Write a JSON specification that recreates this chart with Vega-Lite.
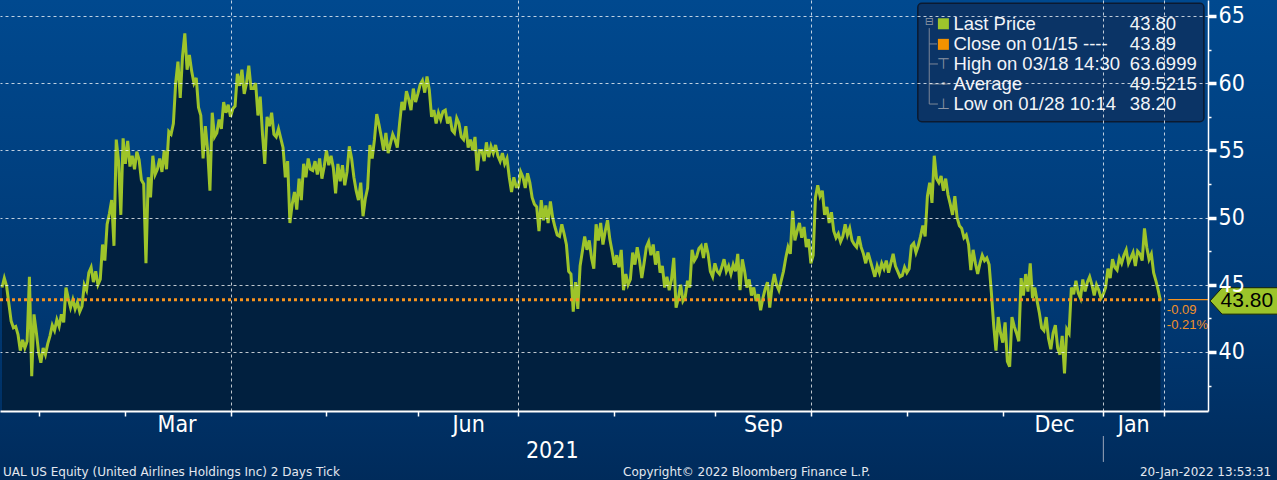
{
"$schema": "https://vega.github.io/schema/vega-lite/v6.json",
"width": 1208,
"height": 411,
"autosize": {"type": "none"},
"padding": {"left": 0, "top": 0, "right": 69, "bottom": 69},
"background": "#002d5e",
"config": {"view": {"stroke": null}},
"resolve": {"axis": {"x": "independent", "y": "independent"}},
"datasets": {
"px": [
{"t":0,"p":44.8},{"t":0.5,"p":45.5},{"t":1,"p":44.9},{"t":1.5,"p":43.6},{"t":2,"p":42.3},{"t":2.5,"p":41.8},{"t":3,"p":41.9},{"t":3.5,"p":41.3},{"t":4,"p":40.1},{"t":4.5,"p":40.9},
{"t":5,"p":40.3},{"t":5.5,"p":40.8},{"t":6,"p":45.6},{"t":6.5,"p":38.2},{"t":7,"p":42.8},{"t":7.5,"p":41.5},{"t":8,"p":40.0},{"t":8.5,"p":39.2},{"t":9,"p":40.3},{"t":9.5,"p":39.8},
{"t":10,"p":40.6},{"t":10.5,"p":41.2},{"t":11,"p":42.0},{"t":11.5,"p":41.6},{"t":12,"p":42.4},{"t":12.5,"p":41.9},{"t":13,"p":42.8},{"t":13.5,"p":42.2},{"t":14,"p":44.8},{"t":14.5,"p":44.0},
{"t":15,"p":43.3},{"t":15.5,"p":43.9},{"t":16,"p":43.2},{"t":16.5,"p":43.7},{"t":17,"p":43.0},{"t":17.5,"p":43.4},{"t":18,"p":45.0},{"t":18.5,"p":44.6},{"t":19,"p":45.9},{"t":19.5,"p":46.3},
{"t":20,"p":45.2},{"t":20.5,"p":46.0},{"t":21,"p":45.0},{"t":21.5,"p":45.4},{"t":22,"p":48.0},{"t":22.5,"p":46.8},{"t":23,"p":49.5},{"t":23.5,"p":50.3},{"t":24,"p":51.3},{"t":24.5,"p":47.9},
{"t":25,"p":55.8},{"t":25.5,"p":54.2},{"t":26,"p":50.2},{"t":26.5,"p":55.9},{"t":27,"p":54.0},{"t":27.5,"p":55.7},{"t":28,"p":53.8},{"t":28.5,"p":54.6},{"t":29,"p":53.6},{"t":29.5,"p":54.9},
{"t":30,"p":54.3},{"t":30.5,"p":52.8},{"t":31,"p":52.5},{"t":31.5,"p":46.6},{"t":32,"p":53.0},{"t":32.5,"p":51.5},{"t":33,"p":54.6},{"t":33.5,"p":53.2},{"t":34,"p":53.6},{"t":34.5,"p":54.4},
{"t":35,"p":53.4},{"t":35.5,"p":55.0},{"t":36,"p":53.6},{"t":36.5,"p":56.4},{"t":37,"p":56.2},{"t":37.5,"p":57.0},{"t":38,"p":60.0},{"t":38.5,"p":61.6},{"t":39,"p":58.9},{"t":39.5,"p":62.0},
{"t":40,"p":63.7},{"t":40.5,"p":61.0},{"t":41,"p":62.1},{"t":41.5,"p":60.9},{"t":42,"p":60.0},{"t":42.5,"p":60.4},{"t":43,"p":58.2},{"t":43.5,"p":57.6},{"t":44,"p":54.4},{"t":44.5,"p":56.8},
{"t":45,"p":55.0},{"t":45.5,"p":52.0},{"t":46,"p":57.8},{"t":46.5,"p":56.0},{"t":47,"p":56.3},{"t":47.5,"p":57.3},{"t":48,"p":56.6},{"t":48.5,"p":58.6},{"t":49,"p":57.8},{"t":49.5,"p":58.4},
{"t":50,"p":57.5},{"t":50.5,"p":58.1},{"t":51,"p":58.3},{"t":51.5,"p":60.7},{"t":52,"p":59.8},{"t":52.5,"p":61.0},{"t":53,"p":59.2},{"t":53.5,"p":60.0},{"t":54,"p":61.3},{"t":54.5,"p":59.6},
{"t":55,"p":59.6},{"t":55.5,"p":60.0},{"t":56,"p":57.6},{"t":56.5,"p":59.0},{"t":57,"p":56.2},{"t":57.5,"p":54.0},{"t":58,"p":57.5},{"t":58.5,"p":56.8},{"t":59,"p":57.8},{"t":59.5,"p":56.2},
{"t":60,"p":56.0},{"t":60.5,"p":56.6},{"t":61,"p":55.9},{"t":61.5,"p":55.2},{"t":62,"p":53.0},{"t":62.5,"p":54.2},{"t":63,"p":49.6},{"t":63.5,"p":51.0},{"t":64,"p":51.9},{"t":64.5,"p":50.6},
{"t":65,"p":52.9},{"t":65.5,"p":51.3},{"t":66,"p":54.0},{"t":66.5,"p":53.0},{"t":67,"p":54.4},{"t":67.5,"p":53.6},{"t":68,"p":53.5},{"t":68.5,"p":54.2},{"t":69,"p":53.2},{"t":69.5,"p":54.4},
{"t":70,"p":52.9},{"t":70.5,"p":53.8},{"t":71,"p":55.0},{"t":71.5,"p":53.9},{"t":72,"p":54.6},{"t":72.5,"p":53.7},{"t":73,"p":51.8},{"t":73.5,"p":54.0},{"t":74,"p":52.7},{"t":74.5,"p":53.9},
{"t":75,"p":52.4},{"t":75.5,"p":53.4},{"t":76,"p":55.3},{"t":76.5,"p":54.4},{"t":77,"p":53.0},{"t":77.5,"p":52.0},{"t":78,"p":51.3},{"t":78.5,"p":52.6},{"t":79,"p":50.1},{"t":79.5,"p":51.4},
{"t":80,"p":52.2},{"t":80.5,"p":55.4},{"t":81,"p":54.4},{"t":81.5,"p":55.8},{"t":82,"p":57.7},{"t":82.5,"p":56.9},{"t":83,"p":56.0},{"t":83.5,"p":55.0},{"t":84,"p":56.3},{"t":84.5,"p":54.8},
{"t":85,"p":55.5},{"t":85.5,"p":56.2},{"t":86,"p":55.8},{"t":86.5,"p":55.2},{"t":87,"p":57.0},{"t":87.5,"p":58.6},{"t":88,"p":58.0},{"t":88.5,"p":59.4},{"t":89,"p":58.8},{"t":89.5,"p":58.0},
{"t":90,"p":59.6},{"t":90.5,"p":58.6},{"t":91,"p":59.2},{"t":91.5,"p":59.9},{"t":92,"p":60.2},{"t":92.5,"p":59.3},{"t":93,"p":60.5},{"t":93.5,"p":59.5},{"t":94,"p":57.5},{"t":94.5,"p":58.0},
{"t":95,"p":57.0},{"t":95.5,"p":57.8},{"t":96,"p":57.3},{"t":96.5,"p":57.9},{"t":97,"p":58.0},{"t":97.5,"p":57.0},{"t":98,"p":57.5},{"t":98.5,"p":56.5},{"t":99,"p":56.3},{"t":99.5,"p":57.4},
{"t":100,"p":57.0},{"t":100.5,"p":56.0},{"t":101,"p":55.8},{"t":101.5,"p":56.8},{"t":102,"p":55.2},{"t":102.5,"p":55.8},{"t":103,"p":55.0},{"t":103.5,"p":56.0},{"t":104,"p":53.5},{"t":104.5,"p":55.0},
{"t":105,"p":55.0},{"t":105.5,"p":54.2},{"t":106,"p":55.6},{"t":106.5,"p":54.5},{"t":107,"p":55.3},{"t":107.5,"p":54.8},{"t":108,"p":55.4},{"t":108.5,"p":54.6},{"t":109,"p":54.2},{"t":109.5,"p":54.8},
{"t":110,"p":54.0},{"t":110.5,"p":54.4},{"t":111,"p":53.0},{"t":111.5,"p":51.9},{"t":112,"p":53.0},{"t":112.5,"p":52.3},{"t":113,"p":52.3},{"t":113.5,"p":53.4},{"t":114,"p":53.0},{"t":114.5,"p":52.2},
{"t":115,"p":53.3},{"t":115.5,"p":52.6},{"t":116,"p":51.5},{"t":116.5,"p":51.0},{"t":117,"p":50.8},{"t":117.5,"p":49.0},{"t":118,"p":51.3},{"t":118.5,"p":49.8},{"t":119,"p":50.9},{"t":119.5,"p":49.6},
{"t":120,"p":51.2},{"t":120.5,"p":50.0},{"t":121,"p":49.3},{"t":121.5,"p":48.7},{"t":122,"p":48.6},{"t":122.5,"p":49.5},{"t":123,"p":48.8},{"t":123.5,"p":48.0},{"t":124,"p":46.0},{"t":124.5,"p":45.8},
{"t":125,"p":43.0},{"t":125.5,"p":45.2},{"t":126,"p":43.2},{"t":126.5,"p":46.4},{"t":127,"p":47.5},{"t":127.5,"p":48.6},{"t":128,"p":47.6},{"t":128.5,"p":48.3},{"t":129,"p":47.0},{"t":129.5,"p":46.2},
{"t":130,"p":49.5},{"t":130.5,"p":48.3},{"t":131,"p":49.6},{"t":131.5,"p":48.0},{"t":132,"p":49.0},{"t":132.5,"p":49.8},{"t":133,"p":48.4},{"t":133.5,"p":47.5},{"t":134,"p":46.5},{"t":134.5,"p":47.2},
{"t":135,"p":46.3},{"t":135.5,"p":47.6},{"t":136,"p":44.6},{"t":136.5,"p":45.8},{"t":137,"p":45.0},{"t":137.5,"p":45.4},{"t":138,"p":47.4},{"t":138.5,"p":46.5},{"t":139,"p":47.8},{"t":139.5,"p":46.8},
{"t":140,"p":45.5},{"t":140.5,"p":46.6},{"t":141,"p":47.8},{"t":141.5,"p":48.2},{"t":142,"p":47.2},{"t":142.5,"p":48.0},{"t":143,"p":46.5},{"t":143.5,"p":47.5},{"t":144,"p":45.9},{"t":144.5,"p":46.4},
{"t":145,"p":44.8},{"t":145.5,"p":45.6},{"t":146,"p":44.6},{"t":146.5,"p":45.4},{"t":147,"p":47.0},{"t":147.5,"p":43.3},{"t":148,"p":44.0},{"t":148.5,"p":45.0},{"t":149,"p":43.8},{"t":149.5,"p":44.1},
{"t":150,"p":45.3},{"t":150.5,"p":44.8},{"t":151,"p":47.6},{"t":151.5,"p":46.8},{"t":152,"p":47.1},{"t":152.5,"p":47.7},{"t":153,"p":47.9},{"t":153.5,"p":47.0},{"t":154,"p":48.1},{"t":154.5,"p":47.3},
{"t":155,"p":46.0},{"t":155.5,"p":45.6},{"t":156,"p":46.6},{"t":156.5,"p":46.0},{"t":157,"p":45.8},{"t":157.5,"p":46.3},{"t":158,"p":46.9},{"t":158.5,"p":46.0},{"t":159,"p":46.4},{"t":159.5,"p":45.8},
{"t":160,"p":46.5},{"t":160.5,"p":46.0},{"t":161,"p":47.3},{"t":161.5,"p":44.6},{"t":162,"p":46.9},{"t":162.5,"p":46.0},{"t":163,"p":44.8},{"t":163.5,"p":45.4},{"t":164,"p":44.2},{"t":164.5,"p":44.8},
{"t":165,"p":43.8},{"t":165.5,"p":44.3},{"t":166,"p":43.1},{"t":166.5,"p":44.0},{"t":167,"p":44.7},{"t":167.5,"p":45.2},{"t":168,"p":43.3},{"t":168.5,"p":44.9},{"t":169,"p":45.8},{"t":169.5,"p":45.0},
{"t":170,"p":44.6},{"t":170.5,"p":45.3},{"t":171,"p":46.0},{"t":171.5,"p":47.0},{"t":172,"p":47.8},{"t":172.5,"p":47.3},{"t":173,"p":50.5},{"t":173.5,"p":48.3},{"t":174,"p":49.0},{"t":174.5,"p":49.6},
{"t":175,"p":48.5},{"t":175.5,"p":49.3},{"t":176,"p":47.8},{"t":176.5,"p":48.4},{"t":177,"p":46.6},{"t":177.5,"p":47.2},{"t":178,"p":51.5},{"t":178.5,"p":52.4},{"t":179,"p":51.6},{"t":179.5,"p":52.0},
{"t":180,"p":50.2},{"t":180.5,"p":50.8},{"t":181,"p":49.6},{"t":181.5,"p":50.4},{"t":182,"p":49.0},{"t":182.5,"p":48.5},{"t":183,"p":48.8},{"t":183.5,"p":48.2},{"t":184,"p":48.6},{"t":184.5,"p":49.5},
{"t":185,"p":48.7},{"t":185.5,"p":49.2},{"t":186,"p":48.3},{"t":186.5,"p":48.0},{"t":187,"p":47.8},{"t":187.5,"p":48.6},{"t":188,"p":47.8},{"t":188.5,"p":47.3},{"t":189,"p":46.6},{"t":189.5,"p":47.4},
{"t":190,"p":46.8},{"t":190.5,"p":46.2},{"t":191,"p":45.6},{"t":191.5,"p":46.4},{"t":192,"p":45.9},{"t":192.5,"p":46.6},{"t":193,"p":46.2},{"t":193.5,"p":46.8},{"t":194,"p":45.9},{"t":194.5,"p":46.6},
{"t":195,"p":47.3},{"t":195.5,"p":46.4},{"t":196,"p":46.0},{"t":196.5,"p":45.6},{"t":197,"p":45.7},{"t":197.5,"p":46.3},{"t":198,"p":45.9},{"t":198.5,"p":46.2},{"t":199,"p":47.9},{"t":199.5,"p":48.1},
{"t":200,"p":47.4},{"t":200.5,"p":47.9},{"t":201,"p":48.6},{"t":201.5,"p":49.4},{"t":202,"p":48.6},{"t":202.5,"p":51.6},{"t":203,"p":52.6},{"t":203.5,"p":51.1},{"t":204,"p":54.6},{"t":204.5,"p":52.9},
{"t":205,"p":52.6},{"t":205.5,"p":53.1},{"t":206,"p":52.0},{"t":206.5,"p":52.9},{"t":207,"p":51.7},{"t":207.5,"p":51.0},{"t":208,"p":50.2},{"t":208.5,"p":51.6},{"t":209,"p":50.0},{"t":209.5,"p":49.4},
{"t":210,"p":49.2},{"t":210.5,"p":48.5},{"t":211,"p":48.7},{"t":211.5,"p":48.0},{"t":212,"p":46.1},{"t":212.5,"p":47.6},{"t":213,"p":46.6},{"t":213.5,"p":45.8},{"t":214,"p":46.6},{"t":214.5,"p":47.2},
{"t":215,"p":46.8},{"t":215.5,"p":47.0},{"t":216,"p":46.5},{"t":216.5,"p":44.4},{"t":217,"p":42.0},{"t":217.5,"p":40.1},{"t":218,"p":42.6},{"t":218.5,"p":41.4},{"t":219,"p":40.7},{"t":219.5,"p":42.2},
{"t":220,"p":39.3},{"t":220.5,"p":38.9},{"t":221,"p":42.6},{"t":221.5,"p":41.9},{"t":222,"p":41.4},{"t":222.5,"p":40.8},{"t":223,"p":45.5},{"t":223.5,"p":44.2},{"t":224,"p":45.8},{"t":224.5,"p":44.5},
{"t":225,"p":46.6},{"t":225.5,"p":44.0},{"t":226,"p":44.8},{"t":226.5,"p":43.8},{"t":227,"p":42.9},{"t":227.5,"p":41.8},{"t":228,"p":41.6},{"t":228.5,"p":42.6},{"t":229,"p":41.0},{"t":229.5,"p":40.2},
{"t":230,"p":41.4},{"t":230.5,"p":42.0},{"t":231,"p":40.3},{"t":231.5,"p":39.8},{"t":232,"p":41.2},{"t":232.5,"p":38.4},{"t":233,"p":41.7},{"t":233.5,"p":41.4},{"t":234,"p":44.8},{"t":234.5,"p":44.3},
{"t":235,"p":45.3},{"t":235.5,"p":44.4},{"t":236,"p":44.0},{"t":236.5,"p":45.4},{"t":237,"p":44.5},{"t":237.5,"p":45.2},{"t":238,"p":45.6},{"t":238.5,"p":45.0},{"t":239,"p":44.2},{"t":239.5,"p":45.0},
{"t":240,"p":44.6},{"t":240.5,"p":44.0},{"t":241,"p":44.3},{"t":241.5,"p":44.8},{"t":242,"p":46.2},{"t":242.5,"p":45.5},{"t":243,"p":46.9},{"t":243.5,"p":46.3},{"t":244,"p":46.1},{"t":244.5,"p":47.0},
{"t":245,"p":46.6},{"t":245.5,"p":47.2},{"t":246,"p":47.6},{"t":246.5,"p":46.6},{"t":247,"p":47.0},{"t":247.5,"p":47.4},{"t":248,"p":46.4},{"t":248.5,"p":47.5},{"t":249,"p":47.3},{"t":249.5,"p":46.8},
{"t":250,"p":49.2},{"t":250.5,"p":47.8},{"t":251,"p":46.9},{"t":251.5,"p":47.3},{"t":252,"p":45.9},{"t":252.5,"p":45.3},{"t":253,"p":44.6},{"t":253.5,"p":43.8}
]
},
"layer": [
{
"data": {"values": [{"a": 1}]},
"mark": {"type": "rect", "fill": {"gradient": "linear", "x1": 0, "y1": 0, "x2": 0, "y2": 1, "stops": [{"offset": 0, "color": "#00498f"}, {"offset": 0.6, "color": "#003a76"}, {"offset": 1, "color": "#002b5b"}]}},
"encoding": {
"x": {"datum": -0.44, "type": "quantitative", "scale": {"domain": [-0.44, 263.9], "nice": false, "zero": false}, "axis": null},
"x2": {"datum": 279.6},
"y": {"datum": 66.19, "type": "quantitative", "scale": {"domain": [35.61, 66.19], "nice": false, "zero": false}, "axis": null},
"y2": {"datum": 30.4}
}
},
{
"data": {"name": "px"},
"mark": {"type": "area", "fill": "#01203f"},
"encoding": {
"x": {"field": "t", "type": "quantitative", "scale": {"domain": [-0.44, 263.9], "nice": false, "zero": false},
"axis": {"orient": "bottom", "values": [38.2, 102, 166.5, 230.2, 247.55], "labelExpr": "datum.value < 50 ? 'Mar' : datum.value < 120 ? 'Jun' : datum.value < 200 ? 'Sep' : datum.value < 240 ? 'Dec' : 'Jan'", "title": null, "ticks": false, "domain": false, "grid": false, "labelFlush": false, "labelOverlap": false, "labelColor": "white", "labelFont": "Liberation Sans Narrow, DejaVu Sans Condensed, sans-serif", "labelFontSize": 23, "labelPadding": 2.6, "zindex": 2}},
"y": {"field": "p", "type": "quantitative", "scale": {"domain": [35.61, 66.19], "nice": false, "zero": false}, "axis": null},
"y2": {"datum": 35.61}
}
},
{
"data": {"name": "px"},
"mark": {"type": "line", "color": "#9ec42a", "strokeWidth": 3},
"encoding": {
"x": {"field": "t", "type": "quantitative", "scale": {"domain": [-0.44, 263.9], "nice": false, "zero": false},
"axis": {"orient": "bottom", "values": [8, 27, 50, 71, 91, 113, 134, 156, 177, 198, 219, 241, 254.2], "labels": false, "title": null, "tickSize": 5, "tickColor": "white", "tickWidth": 1.5, "domain": true, "domainColor": "white", "domainWidth": 2, "grid": true, "gridColor": "white", "gridDash": [3, 3], "gridWidth": 1, "gridOpacity": {"condition": {"test": "datum.value == 50 || datum.value == 113 || datum.value == 177 || datum.value == 241 || datum.value > 254", "value": 0.75}, "value": 0}, "zindex": 1}},
"y": {"field": "p", "type": "quantitative", "scale": {"domain": [35.61, 66.19], "nice": false, "zero": false},
"axis": {"orient": "right", "values": [37.5, 40, 42.5, 45, 47.5, 50, 52.5, 55, 57.5, 60, 62.5, 65], "labelExpr": "datum.value % 5 === 0 ? format(datum.value, 'd') : ''", "title": null, "tickSize": {"condition": {"test": "datum.value % 5 !== 0", "value": 3}, "value": 8}, "tickWidth": {"condition": {"test": "datum.value % 5 !== 0", "value": 1.5}, "value": 3.5}, "tickColor": "white", "domain": true, "domainColor": "white", "domainWidth": 1.5, "labelColor": "white", "labelFont": "Liberation Sans Narrow, DejaVu Sans Condensed, sans-serif", "labelFontSize": 23, "labelPadding": 2, "labelBaseline": "middle", "labelOverlap": false, "labelFlush": false, "grid": true, "gridColor": "white", "gridDash": [3, 3], "gridWidth": 1, "gridOpacity": {"condition": {"test": "datum.value % 5 !== 0", "value": 0}, "value": 0.75}, "zindex": 1}}
}
},
{
"data": {"values": [{"a": 1}]},
"mark": {"type": "rule", "color": "#f7931e", "strokeWidth": 3, "strokeDash": [3, 3]},
"encoding": {
"x": {"datum": -0.44, "type": "quantitative", "scale": {"domain": [-0.44, 263.9], "nice": false, "zero": false}, "axis": null},
"x2": {"datum": 254.4},
"y": {"datum": 43.89, "type": "quantitative", "scale": {"domain": [35.61, 66.19], "nice": false, "zero": false}, "axis": null}
}
},
{
"data": {"values": [{"a": 1}]},
"mark": {"type": "rule", "color": "#f7931e", "strokeWidth": 1.3},
"encoding": {
"x": {"datum": 255.2, "type": "quantitative", "scale": {"domain": [-0.44, 263.9], "nice": false, "zero": false}, "axis": null},
"x2": {"datum": 263.9},
"y": {"datum": 43.89, "type": "quantitative", "scale": {"domain": [35.61, 66.19], "nice": false, "zero": false}, "axis": null}
}
},
{
"data": {"values": [{"a": 1}]},
"mark": {"type": "rect", "fill": "#0b3466", "stroke": "#0c1a30", "strokeWidth": 1.5, "cornerRadius": 4},
"encoding": {
"x": {"datum": 200.4, "type": "quantitative", "scale": {"domain": [-0.44, 263.9], "nice": false, "zero": false}, "axis": null},
"x2": {"datum": 263.0},
"y": {"datum": 65.94, "type": "quantitative", "scale": {"domain": [35.61, 66.19], "nice": false, "zero": false}, "axis": null},
"y2": {"datum": 57.14}
}
},
{
"data": {"values": [
{"x": 202.9, "x2": 202.9, "y": 64.1, "y2": 58.45},
{"x": 202.9, "x2": 204.6, "y": 62.92, "y2": 62.92},
{"x": 202.9, "x2": 204.8, "y": 61.43, "y2": 61.43},
{"x": 202.9, "x2": 207.5, "y": 59.94, "y2": 59.94},
{"x": 202.9, "x2": 204.8, "y": 58.45, "y2": 58.45}
]},
"mark": {"type": "rule", "color": "#7d8797", "strokeWidth": 1},
"encoding": {
"x": {"field": "x", "type": "quantitative", "scale": {"domain": [-0.44, 263.9], "nice": false, "zero": false}, "axis": null},
"x2": {"field": "x2"},
"y": {"field": "y", "type": "quantitative", "scale": {"domain": [35.61, 66.19], "nice": false, "zero": false}, "axis": null},
"y2": {"field": "y2"}
}
},
{
"data": {"values": [
{"x": 202.9, "y": 64.55, "s": "⊟", "f": 11},
{"x": 206.0, "y": 61.43, "s": "⊤", "f": 15},
{"x": 206.0, "y": 59.94, "s": "•", "f": 11},
{"x": 206.0, "y": 58.45, "s": "⊥", "f": 15}
]},
"mark": {"type": "text", "color": "#8a93a2", "font": "DejaVu Sans", "align": "center", "baseline": "middle"},
"encoding": {
"x": {"field": "x", "type": "quantitative", "scale": {"domain": [-0.44, 263.9], "nice": false, "zero": false}, "axis": null},
"y": {"field": "y", "type": "quantitative", "scale": {"domain": [35.61, 66.19], "nice": false, "zero": false}, "axis": null},
"text": {"field": "s"},
"size": {"field": "f", "type": "quantitative", "scale": null}
}
},
{
"data": {"values": [
{"x": 206.0, "y": 64.42, "c": "#9dc52c"},
{"x": 206.0, "y": 62.89, "c": "#f39200"}
]},
"mark": {"type": "point", "shape": "square", "filled": true, "size": 121, "opacity": 1},
"encoding": {
"x": {"field": "x", "type": "quantitative", "scale": {"domain": [-0.44, 263.9], "nice": false, "zero": false}, "axis": null},
"y": {"field": "y", "type": "quantitative", "scale": {"domain": [35.61, 66.19], "nice": false, "zero": false}, "axis": null},
"color": {"field": "c", "type": "nominal", "scale": null}
}
},
{
"data": {"values": [
{"x": 208.2, "y": 63.96, "s": "Last Price"},
{"x": 208.2, "y": 62.45, "s": "Close on 01/15 ----"},
{"x": 208.2, "y": 60.98, "s": "High on 03/18 14:30"},
{"x": 208.2, "y": 59.49, "s": "Average"},
{"x": 208.2, "y": 58.0, "s": "Low on 01/28 10:14"},
{"x": 246.8, "y": 63.96, "s": "43.80"},
{"x": 246.8, "y": 62.45, "s": "43.89"},
{"x": 246.8, "y": 60.98, "s": "63.6999"},
{"x": 246.8, "y": 59.49, "s": "49.5215"},
{"x": 246.8, "y": 58.0, "s": "38.20"}
]},
"mark": {"type": "text", "align": "left", "baseline": "alphabetic", "font": "Liberation Sans", "fontSize": 18.5, "color": "#f2f4f8"},
"encoding": {
"x": {"field": "x", "type": "quantitative", "scale": {"domain": [-0.44, 263.9], "nice": false, "zero": false}, "axis": null},
"y": {"field": "y", "type": "quantitative", "scale": {"domain": [35.61, 66.19], "nice": false, "zero": false}, "axis": null},
"text": {"field": "s"}
}
},
{
"data": {"values": [{"x": 273.1, "y": 43.8}]},
"mark": {"type": "point", "shape": "M-1,0L-0.7,-0.33L1,-0.33L1,0.33L-0.7,0.33Z", "size": 6400, "filled": true, "fill": "#9cc42a", "stroke": "#13200a", "strokeWidth": 1, "opacity": 1},
"encoding": {
"x": {"field": "x", "type": "quantitative", "scale": {"domain": [-0.44, 263.9], "nice": false, "zero": false}, "axis": null},
"y": {"field": "y", "type": "quantitative", "scale": {"domain": [35.61, 66.19], "nice": false, "zero": false}, "axis": null}
}
},
{
"data": {"values": [{"x": 272.4, "y": 43.8, "s": "43.80"}]},
"mark": {"type": "text", "align": "center", "baseline": "middle", "font": "Liberation Sans", "fontSize": 21, "color": "#000000"},
"encoding": {
"x": {"field": "x", "type": "quantitative", "scale": {"domain": [-0.44, 263.9], "nice": false, "zero": false}, "axis": null},
"y": {"field": "y", "type": "quantitative", "scale": {"domain": [35.61, 66.19], "nice": false, "zero": false}, "axis": null},
"text": {"field": "s"}
}
},
{
"data": {"values": [{"x": 254.9, "y": 43.125, "s": "-0.09"}, {"x": 254.9, "y": 42.0, "s": "-0.21%"}]},
"mark": {"type": "text", "align": "left", "baseline": "middle", "font": "Liberation Sans", "fontSize": 13, "color": "#f0902a"},
"encoding": {
"x": {"field": "x", "type": "quantitative", "scale": {"domain": [-0.44, 263.9], "nice": false, "zero": false}, "axis": null},
"y": {"field": "y", "type": "quantitative", "scale": {"domain": [35.61, 66.19], "nice": false, "zero": false}, "axis": null},
"text": {"field": "s"}
}
},
{
"data": {"values": [{"a": 1}]},
"mark": {"type": "rule", "color": "#9aa6ba", "strokeWidth": 1},
"encoding": {
"x": {"datum": 241, "type": "quantitative", "scale": {"domain": [-0.44, 263.9], "nice": false, "zero": false}, "axis": null},
"y": {"datum": 33.75, "type": "quantitative", "scale": {"domain": [35.61, 66.19], "nice": false, "zero": false}, "axis": null},
"y2": {"datum": 31.82}
}
},
{
"data": {"values": [
{"x": 0.22, "y": 30.8, "s": "UAL US Equity (United Airlines Holdings Inc) 2 Days  Tick"},
{"x": 135.9, "y": 30.8, "s": "Copyright© 2022 Bloomberg Finance L.P."},
{"x": 249.0, "y": 30.8, "s": "20-Jan-2022 13:53:31"}
]},
"mark": {"type": "text", "align": "left", "baseline": "alphabetic", "font": "DejaVu Sans", "fontSize": 12, "color": "#e3e8f0"},
"encoding": {
"x": {"field": "x", "type": "quantitative", "scale": {"domain": [-0.44, 263.9], "nice": false, "zero": false},
"axis": {"orient": "bottom", "values": [120.3], "labelExpr": "'2021'", "title": null, "ticks": false, "domain": false, "grid": false, "labelFlush": false, "labelOverlap": false, "labelColor": "white", "labelFont": "Liberation Sans Narrow, DejaVu Sans Condensed, sans-serif", "labelFontSize": 23, "labelPadding": 28.3, "zindex": 2}},
"y": {"field": "y", "type": "quantitative", "scale": {"domain": [35.61, 66.19], "nice": false, "zero": false}, "axis": null},
"text": {"field": "s"}
}
}
]
}
